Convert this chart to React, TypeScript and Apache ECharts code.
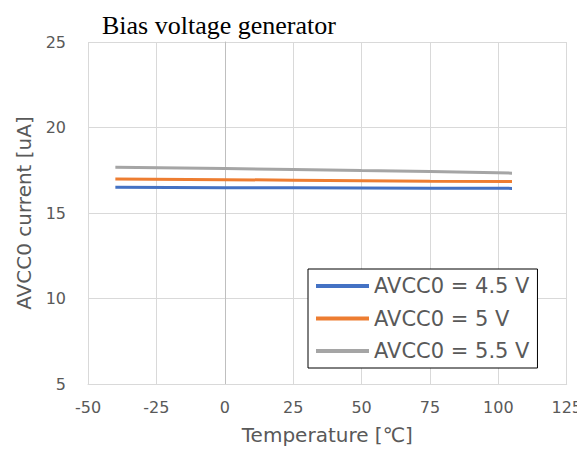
import React, { useEffect, useRef } from "react";
import * as echarts from "echarts";

const temperatures = [-40, 0, 25, 50, 75, 105];
const avcc45 = [16.5, 16.48, 16.47, 16.46, 16.45, 16.44];
const avcc50 = [16.99, 16.95, 16.92, 16.89, 16.86, 16.84];
const avcc55 = [17.67, 17.6, 17.55, 17.48, 17.42, 17.33];
const seriesNames = ["AVCC0 = 4.5 V", "AVCC0 = 5 V", "AVCC0 = 5.5 V"];
const seriesColors = ["#4472C4", "#ED7D31", "#A5A5A5"];

const FONT = "DejaVu Sans";

export default function App() {
  const ref = useRef<HTMLDivElement>(null);
  useEffect(() => {
    if (!ref.current) return;
    const chart = echarts.init(ref.current, null, { renderer: "svg" });
    const values = [avcc45, avcc50, avcc55];
    chart.setOption({
      animation: false,
      backgroundColor: "#ffffff",
      title: {
        text: "Bias voltage generator",
        left: 102,
        top: 12,
        padding: 0,
        textStyle: {
          fontFamily: "Liberation Serif",
          fontSize: 26,
          fontWeight: "normal",
          color: "#000000",
        },
      },
      grid: { left: 88, right: 17, top: 42, bottom: 65 },
      legend: {
        orient: "vertical",
        left: 308,
        top: 269,
        padding: [6, 8, 6, 8],
        itemGap: 10.5,
        itemWidth: 53,
        itemHeight: 4,
        icon: "rect",
        borderColor: "#000000",
        borderWidth: 1,
        backgroundColor: "#ffffff",
        textStyle: { fontFamily: FONT, fontSize: 21, color: "#595959", lineHeight: 22 },
        data: seriesNames,
      },
      xAxis: {
        type: "value",
        min: -50,
        max: 125,
        interval: 25,
        name: "Temperature [℃]",
        nameLocation: "middle",
        nameGap: 41,
        nameTextStyle: { fontFamily: FONT, fontSize: 20, color: "#595959" },
        axisLine: { show: true, lineStyle: { color: "#d9d9d9", width: 1 } },
        axisTick: { show: false },
        axisLabel: { fontFamily: FONT, fontSize: 16, color: "#595959", margin: 15 },
        splitLine: { show: true, lineStyle: { color: "#d9d9d9", width: 1 } },
      },
      yAxis: {
        type: "value",
        min: 5,
        max: 25,
        interval: 5,
        name: "AVCC0 current [uA]",
        nameLocation: "middle",
        nameGap: 54,
        nameTextStyle: { fontFamily: FONT, fontSize: 20, color: "#595959" },
        axisLine: { show: true, onZero: true, lineStyle: { color: "#bfbfbf", width: 1 } },
        axisTick: { show: false },
        axisLabel: { fontFamily: FONT, fontSize: 16, color: "#595959", margin: 22 },
        splitLine: { show: true, lineStyle: { color: "#d9d9d9", width: 1 } },
      },
      series: seriesNames.map((name, i) => ({
        name,
        type: "line",
        data: temperatures.map((t, j) => [t, values[i][j]]),
        showSymbol: false,
        symbol: "none",
        lineStyle: { color: seriesColors[i], width: 3 },
        itemStyle: { color: seriesColors[i] },
        z: 3 + i,
      })),
    });
    return () => chart.dispose();
  }, []);
  return <div ref={ref} style={{ width: 585, height: 450, margin: "-8px 0 0 -8px" }} />;
}
